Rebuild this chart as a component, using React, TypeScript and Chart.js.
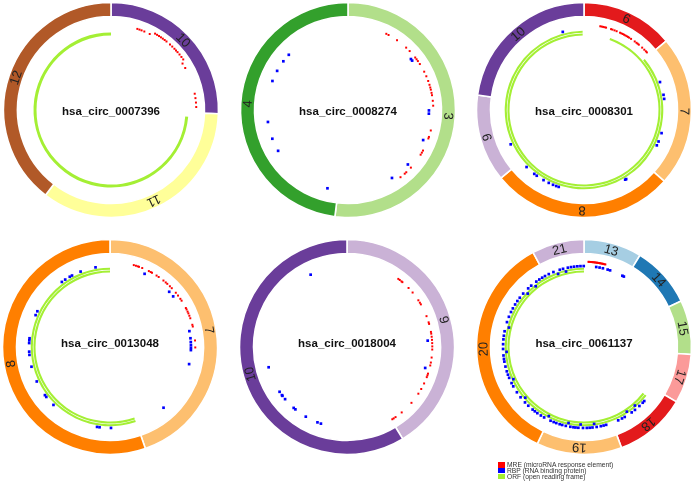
import React, { useEffect, useRef } from "react";
import { Chart, registerables } from "chart.js";
Chart.register(...registerables);

// ColorBrewer "Paired" palette, indexed by exon number
const PAIRED = ["#a6cee3", "#1f78b4", "#b2df8a", "#33a02c", "#fb9a99", "#e31a1c", "#fdbf6f", "#ff7f00", "#cab2d6", "#6a3d9a", "#ffff99", "#b15928"];
const ORF_COLOR = "#a4ef34";
const MRE_COLOR = "#ff0000";
const RBP_COLOR = "#0000ff";

// ---------------- data (angles in degrees, clockwise from 12 o'clock) ----------------
const circ1Name = "hsa_circ_0007396";
const circ1Exons = [10, 11, 12];
const circ1ExonDeg = [92, 125.6, 142.4];
const circ1Orfs = [[95, 360]];
const circ1Mre = [18, 19.5, 21, 23, 27, 57, 60.5, 79, 82, 85, 88];
const circ1MreStack = [30, 31.5, 33, 34.5, 36, 37.5, 39, 42, 44, 46, 47.5, 49, 51, 53, 55];
const circ1Rbp: number[] = [];
const circ1RbpStack: number[] = [];

const circ2Name = "hsa_circ_0008274";
const circ2Exons = [3, 4];
const circ2ExonDeg = [187, 173];
const circ2Orfs: number[][] = [];
const circ2Mre = [26.7, 28.4, 35.1, 43, 46.3, 52, 53.5, 55, 57.4, 63.3, 66.7, 70.1, 72.8, 74.7, 76.2, 78.4, 80, 83.8, 87.1, 103.9, 108.4, 109.5, 118.4, 120, 121.6, 132.5, 136.9, 138.3, 142];
const circ2MreStack: number[] = [];
const circ2Rbp = [51, 52.4, 90.3, 92.6, 111.8, 132.3, 147.1, 194.7, 239.7, 249.2, 261.5, 291, 298.9, 307, 313];
const circ2RbpStack: number[] = [];

const circ3Name = "hsa_circ_0008301";
const circ3Exons = [6, 7, 8, 9, 10];
const circ3ExonDeg = [50, 81.6, 99.1, 47.3, 82];
const circ3Orfs = [[50, 359], [20, 359]];
const circ3Mre = [11, 12, 13, 14, 15, 18.5, 19.5, 21, 22.5, 25, 26, 27, 28, 29, 30, 31, 32, 33.5, 36.5, 38, 39, 40, 43, 45, 46.5, 47.5];
const circ3MreStack: number[] = [];
const circ3Rbp = [69.8, 79.2, 82.1, 106.6, 112.9, 115.9, 148.6, 149.4, 198.2, 200.1, 202.5, 205.8, 210, 215.7, 217.9, 225.2, 244.9, 344.8];
const circ3RbpStack: number[] = [];

const circ4Name = "hsa_circ_0013048";
const circ4Exons = [7, 8];
const circ4ExonDeg = [160.8, 199.2];
const circ4Orfs = [[161, 360], [161, 360]];
const circ4Mre = [16.2, 17.7, 19, 19.9, 22.2, 27.1, 28.5, 29.5, 33.1, 34.8, 38.8, 40.8, 42.2, 44.6, 46.4, 50.5, 52.9, 55.6, 57.1, 62.8, 63.9, 65.5, 66.8, 68.5, 70.3, 74.9, 76.1, 85.6, 90.3];
const circ4MreStack: number[] = [];
const circ4Rbp = [25.3, 47, 51.3, 78.7, 83.8, 86.5, 88.7, 90.6, 92.2, 102.2, 138.6, 179.3, 187.4, 189.2, 224.3, 231.9, 233.5, 244.8, 255.9, 264.4, 266.7, 272.8, 274.7, 276.2, 293.2, 296.2, 323.5, 326.4, 330.2, 332, 338.7, 349.7];
const circ4RbpStack: number[] = [];

const circ5Name = "hsa_circ_0018004";
const circ5Exons = [9, 10];
const circ5ExonDeg = [148.8, 211.2];
const circ5Orfs: number[][] = [];
const circ5Mre = [37, 38.2, 39.7, 40.5, 46.2, 50.3, 56.8, 58.7, 60, 68.8, 73.2, 74.3, 79.8, 81, 83.1, 85.2, 87.4, 89.6, 91.7, 97.1, 100.5, 102.5, 108.2, 109.4, 110.7, 115.3, 119.5, 123.2, 130.9, 140.1, 145.3, 146.8, 147.9];
const circ5MreStack: number[] = [];
const circ5Rbp = [85.5, 105, 198.8, 201.4, 210.6, 219.6, 221.2, 229.9, 232.9, 233.5, 236.4, 255.5, 333.3];
const circ5RbpStack: number[] = [];

const circ6Name = "hsa_circ_0061137";
const circ6Exons = [13, 14, 15, 17, 18, 19, 20, 21];
const circ6ExonDeg = [31.4, 33.3, 29.3, 26.7, 38.9, 46.2, 125.9, 28.3];
const circ6Orfs = [[128, 360], [128, 360]];
const circ6Mre = [3, 3.5, 4.3, 4.9, 5.6, 6.1, 6.9, 7.4, 8.2, 8.8, 9.3, 10.1, 10.7, 11.2, 12, 12.6, 13.1, 13.9, 14.5];
const circ6MreStack: number[] = [];
const circ6Rbp = [8.7, 11.1, 13.5, 17, 18.8, 28.3, 29.5,
  334.2, 337.8, 342.6, 345, 348.5, 350.8, 353, 355.3, 357.5, 359.8,
  301.7, 304.6, 307.5, 311.3, 316.4, 319.3, 323.9, 326.5, 328.9, 331.2,
  264, 268.6, 272, 275.4, 278, 281.2, 287.9, 291.9, 295.6, 298.5,
  215.2, 217.4, 219.4, 223.5, 226.8, 231.6, 236, 240.9, 243.5, 247.6, 250, 252.5, 256, 259.6, 261.5,
  164.1, 166, 168, 171, 174, 176, 178, 180.7, 184, 186, 187.5, 189.7, 193, 195.6, 197.5, 200, 202, 204.4, 209.5, 212.2,
  131.9, 133.5, 136.8, 141, 143.9, 149.8, 152, 155];
const circ6RbpStack = [340.5, 346.6, 313.5, 321.5, 266.4, 284.5, 229.2, 245.5, 172.5, 182.5, 191.5, 207, 139, 146.5];

const legendLabels = ["MRE (microRNA response element)", "RBP (RNA binding protein)", "ORF (open reading frame)"];
const legendColors = [MRE_COLOR, RBP_COLOR, ORF_COLOR];

// ---------------- geometry (px) ----------------
const HALF = 110;
const R_OUT = 107.5;
const R_RING_IN = 93.5;
const ORF_IN = 74.5;
const MRE_R = 88.5;
const MRE_R2 = 91.5;
const RBP_R = 84;
const RBP_R2 = 80.5;

const ringText = {
  id: "ringText",
  afterDatasetsDraw(chart: any, _args: any, opts: any) {
    const ctx = chart.ctx;
    const meta = chart.getDatasetMeta(0);
    ctx.save();
    ctx.font = '13px "Liberation Sans", Arial, sans-serif';
    ctx.fillStyle = "#222";
    ctx.textAlign = "center";
    ctx.textBaseline = "middle";
    meta.data.forEach((arc: any, i: number) => {
      const mid = (arc.startAngle + arc.endAngle) / 2;
      const r = (arc.innerRadius + arc.outerRadius) / 2;
      ctx.save();
      ctx.translate(arc.x + r * Math.cos(mid), arc.y + r * Math.sin(mid));
      ctx.rotate(mid + Math.PI / 2);
      ctx.fillText(String(chart.data.labels[i]), 0, 0.5);
      ctx.restore();
    });
    const a0 = meta.data[0];
    ctx.font = 'bold 11.5px "Liberation Sans", Arial, sans-serif';
    ctx.fillStyle = "#111";
    ctx.fillText(opts.title, a0.x, a0.y + opts.dy);
    ctx.restore();
  },
};

type PanelProps = {
  cx: number; cy: number; titleDy: number; name: string;
  exons: number[]; exonDeg: number[]; orfs: number[][];
  mre: number[]; mreStack: number[]; rbp: number[]; rbpStack: number[];
};

function CircPanel(p: PanelProps) {
  const ringRef = useRef<HTMLCanvasElement>(null);
  const ptRef = useRef<HTMLCanvasElement>(null);
  useEffect(() => {
    const clear = "rgba(0,0,0,0)";
    const datasets: any[] = [{
      data: p.exonDeg,
      backgroundColor: p.exons.map((e) => PAIRED[(e - 1) % 12]),
      borderColor: "#ffffff",
      borderWidth: 1.6,
      weight: R_OUT - R_RING_IN,
    }];
    let inner = R_RING_IN;
    if (p.orfs.length) {
      const n = p.orfs.length;
      const bandW = n === 1 ? 3 : 2.1;
      const gap = 0.6;
      const total = n * bandW + (n - 1) * gap;
      datasets.push({ data: [360], backgroundColor: [clear], borderWidth: 0, weight: R_RING_IN - ORF_IN - total });
      p.orfs.forEach((o, i) => {
        if (i > 0) datasets.push({ data: [360], backgroundColor: [clear], borderWidth: 0, weight: gap });
        datasets.push({
          data: [o[0], o[1] - o[0], 360 - o[1]],
          backgroundColor: [clear, ORF_COLOR, clear],
          borderWidth: 0,
          weight: bandW,
        });
      });
      inner = ORF_IN;
    }
    const ring = new Chart(ringRef.current as HTMLCanvasElement, {
      type: "doughnut",
      data: { labels: p.exons.map(String), datasets },
      options: {
        animation: false,
        responsive: false,
        events: [],
        radius: R_OUT,
        cutout: (inner / R_OUT) * 100 + "%",
        layout: { padding: 0 },
        plugins: {
          legend: { display: false },
          tooltip: { enabled: false },
          ringText: { title: p.name, dy: p.titleDy },
        } as any,
      } as any,
      plugins: [ringText],
    });

    const toPts = (angles: number[], r: number) =>
      angles.map((a) => ({ x: r * Math.sin((a * Math.PI) / 180), y: r * Math.cos((a * Math.PI) / 180) }));
    const pts = new Chart(ptRef.current as HTMLCanvasElement, {
      type: "scatter",
      data: {
        datasets: [
          {
            data: toPts(p.rbp, RBP_R).concat(toPts(p.rbpStack, RBP_R2)),
            pointStyle: "rect",
            pointRadius: 1.9,
            pointBackgroundColor: RBP_COLOR,
            pointBorderWidth: 0,
          },
          {
            data: toPts(p.mre, MRE_R).concat(toPts(p.mreStack, MRE_R2)),
            pointStyle: "rect",
            pointRadius: 1.4,
            pointBackgroundColor: MRE_COLOR,
            pointBorderWidth: 0,
          },
        ],
      },
      options: {
        animation: false,
        responsive: false,
        events: [],
        layout: { padding: 0 },
        scales: {
          x: { display: false, min: -HALF, max: HALF },
          y: { display: false, min: -HALF, max: HALF },
        },
        plugins: { legend: { display: false }, tooltip: { enabled: false } },
      } as any,
    });
    return () => {
      ring.destroy();
      pts.destroy();
    };
  }, []);
  const style: React.CSSProperties = { position: "absolute", left: p.cx - HALF, top: p.cy - HALF, width: 2 * HALF, height: 2 * HALF };
  return (
    <>
      <canvas ref={ringRef} width={2 * HALF} height={2 * HALF} style={style} />
      <canvas ref={ptRef} width={2 * HALF} height={2 * HALF} style={style} />
    </>
  );
}

export default function App() {
  return (
    <div style={{ position: "absolute", left: 0, top: 0, width: 694, height: 487, background: "#ffffff", overflow: "hidden" }}>
      <CircPanel cx={111} cy={110} titleDy={1.5} name={circ1Name} exons={circ1Exons} exonDeg={circ1ExonDeg} orfs={circ1Orfs} mre={circ1Mre} mreStack={circ1MreStack} rbp={circ1Rbp} rbpStack={circ1RbpStack} />
      <CircPanel cx={348} cy={110} titleDy={1.5} name={circ2Name} exons={circ2Exons} exonDeg={circ2ExonDeg} orfs={circ2Orfs} mre={circ2Mre} mreStack={circ2MreStack} rbp={circ2Rbp} rbpStack={circ2RbpStack} />
      <CircPanel cx={584} cy={110} titleDy={1.5} name={circ3Name} exons={circ3Exons} exonDeg={circ3ExonDeg} orfs={circ3Orfs} mre={circ3Mre} mreStack={circ3MreStack} rbp={circ3Rbp} rbpStack={circ3RbpStack} />
      <CircPanel cx={110} cy={347} titleDy={-3.5} name={circ4Name} exons={circ4Exons} exonDeg={circ4ExonDeg} orfs={circ4Orfs} mre={circ4Mre} mreStack={circ4MreStack} rbp={circ4Rbp} rbpStack={circ4RbpStack} />
      <CircPanel cx={347} cy={347} titleDy={-3.5} name={circ5Name} exons={circ5Exons} exonDeg={circ5ExonDeg} orfs={circ5Orfs} mre={circ5Mre} mreStack={circ5MreStack} rbp={circ5Rbp} rbpStack={circ5RbpStack} />
      <CircPanel cx={584} cy={347} titleDy={-3.5} name={circ6Name} exons={circ6Exons} exonDeg={circ6ExonDeg} orfs={circ6Orfs} mre={circ6Mre} mreStack={circ6MreStack} rbp={circ6Rbp} rbpStack={circ6RbpStack} />
      <div style={{ position: "absolute", left: 498, top: 462, font: '6.7px "Liberation Sans", Arial, sans-serif', color: "#333" }}>
        {legendLabels.map((lab, i) => (
          <div key={lab} style={{ display: "flex", alignItems: "center", height: 5.8, whiteSpace: "nowrap" }}>
            <span style={{ display: "inline-block", width: 6.5, height: 5.6, background: legendColors[i], marginRight: 2.5 }} />
            <span style={{ lineHeight: "5.8px" }}>{lab}</span>
          </div>
        ))}
      </div>
    </div>
  );
}
